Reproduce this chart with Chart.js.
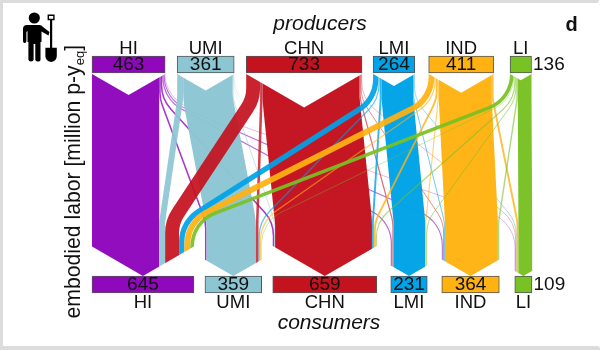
<!DOCTYPE html>
<html><head><meta charset="utf-8">
<script src="https://cdn.jsdelivr.net/npm/chart.js@4"></script>
<style>
html,body{margin:0;padding:0;background:#fff;width:605px;height:350px;overflow:hidden}
#wrap{position:absolute;left:0;top:0;width:605px;height:350px}
canvas{position:absolute;left:0;top:0}
.band{position:absolute;background:#dcdcdc}
svg{position:absolute;left:0;top:0}
</style></head><body>
<div id="wrap">
<div class="band" style="left:0;top:0;width:599px;height:3px;border-radius:0 0 3px 0"></div>
<div class="band" style="left:0;top:0;width:3px;height:350px"></div>
<div class="band" style="left:0;top:346px;width:600px;height:4px;border-radius:3px 3px 0 0"></div>
<canvas id="c" width="605" height="350"></canvas>
<svg width="605" height="350" viewBox="0 0 605 350">
  <circle cx="34.3" cy="18" r="5.6" fill="#000"/>
  <path d="M27 25 H39.5 Q41.5 25 43 27 L49.5 32 L48.5 35.5 L41.5 31.5 V42 H40.5 V59.5 Q40.5 61.5 37.7 61.5 Q35.3 61.5 35.3 59.5 V44 H33.6 V59.5 Q33.6 61.5 31 61.5 Q28.4 61.5 28.4 59.5 V42 H27.5 V31 L26.4 32 V41 Q26.4 43 24.6 43 Q23 43 23 41 V29 Q23 25 27 25Z" fill="#000"/>
  <path d="M47.6 14.6 H54.6 V20.2 H52.2 V47.8 H56.8 V56 Q56.8 61 51.2 62 Q45.4 61 45.4 56 V47.8 H50 V20.2 H47.6Z M49 16 V18.8 H53.2 V16Z" fill="#000" fill-rule="evenodd"/>
</svg>
</div>
<script>
const categories = ['HI','UMI','CHN','LMI','IND','LI'];
const producerTotals = [463,361,733,264,411,136];
const consumerTotals = [645,359,659,231,364,109];
// embodied labor flows, producer (row) to consumer (column)
const fromHI  = [425,10,10,8,7,3];
const fromUMI = [38,313,5,2,2,1];
const fromCHN = [88,16,613,8,5,3];
const fromLMI = [34,8,12,200,6,4];
const fromIND = [37,8,12,7,335,12];
const fromLI  = [23,4,7,6,9,87];
const flows = [fromHI,fromUMI,fromCHN,fromLMI,fromIND,fromLI];
// spacing between bars, in axis units
const producerGaps = [76,76,70,88,104];
const consumerGaps = [70,70,88,92,98];
const barColours = ['#9008BC','#8DC6D3','#C4121F','#00A3E8','#FFB212','#78C224'];

function spans(totals,gaps){let p=0;return totals.map((t,i)=>{const s=[p,p+t];p+=t+(gaps[i]||0);return s;});}
const prodSpans = spans(producerTotals,producerGaps);
const consSpans = spans(consumerTotals,consumerGaps);

const SLOPE = Math.tan(Math.PI/6);
const BAR = 17;
const FONT = '"Liberation Sans", Arial, sans-serif';

const flowPlugin = {
  id:'flows',
  beforeDatasetsDraw(chart){
    const {ctx,scales:{x,y}} = chart;
    const yTop = y.getPixelForValue(1)+BAR/2;
    const yBot = y.getPixelForValue(0)-BAR/2;
    const k = x.getPixelForValue(1)-x.getPixelForValue(0);
    const inOff = categories.map(()=>0);
    const ends = flows.map(()=>[]);
    flows.forEach((row,i)=>row.forEach((v,j)=>{
      ends[i][j]=consSpans[j][0]+inOff[j]+v/2; inOff[j]+=v;
    }));
    ctx.save();
    flows.forEach((row,i)=>{
      let off=0;
      row.forEach((v,j)=>{
        const xs=x.getPixelForValue(prodSpans[i][0]+off+v/2);
        const xe=x.getPixelForValue(ends[i][j]);
        off+=v;
        const w=v*k;
        ctx.beginPath();
        ctx.moveTo(xs,yTop);
        const y1=yTop+26, y2=yBot-54;
        const r=i===j?70:36;
        ctx.arcTo(xs,y1,xe,y2,r);
        ctx.arcTo(xe,y2,xe,yBot,r);
        ctx.lineTo(xe,yBot);
        ctx.strokeStyle=barColours[i];
        ctx.globalAlpha = i===j ? 0.98 : (w<1.5 ? 0.6 : (w<3 ? 0.8 : 0.93));
        ctx.lineWidth=w;
        ctx.lineCap='butt';
        ctx.lineJoin='round';
        ctx.stroke();
      });
    });
    ctx.globalAlpha=1;
    // chevrons at both ends of the bands
    ctx.fillStyle='#fff';
    prodSpans.forEach(([a,b])=>{
      const p=x.getPixelForValue(a),q=x.getPixelForValue(b),m=(p+q)/2;
      ctx.beginPath();ctx.moveTo(p-1,yTop-1);ctx.lineTo(p,yTop+1);ctx.lineTo(m,yTop+1+(q-p)/2*SLOPE);ctx.lineTo(q,yTop+1);ctx.lineTo(q+1,yTop-1);ctx.closePath();ctx.fill();
    });
    consSpans.forEach(([a,b])=>{
      const p=x.getPixelForValue(a),q=x.getPixelForValue(b),m=(p+q)/2,d=(q-p)/2*SLOPE;
      ctx.beginPath();ctx.moveTo(p-1,yBot-d);ctx.lineTo(p,yBot-d);ctx.lineTo(m,yBot);ctx.lineTo(q,yBot-d);ctx.lineTo(q+1,yBot-d);ctx.lineTo(q+1,yBot+1);ctx.lineTo(p-1,yBot+1);ctx.closePath();ctx.fill();
    });
    ctx.restore();
  },
  afterDatasetsDraw(chart){
    const {ctx,scales:{x,y}} = chart;
    const yP=y.getPixelForValue(1), yC=y.getPixelForValue(0);
    ctx.save();
    ctx.fillStyle='#111';ctx.textBaseline='middle';ctx.textAlign='center';
    const f=`18.5px ${FONT}`, v=`19px ${FONT}`;
    categories.forEach((c,i)=>{
      const pm=x.getPixelForValue((prodSpans[i][0]+prodSpans[i][1])/2);
      const cm=x.getPixelForValue((consSpans[i][0]+consSpans[i][1])/2);
      ctx.font=f;
      ctx.fillText(c,pm,yP-16);
      ctx.fillText(c,cm,yC+18);
      if(i<5){
        ctx.font=v;
        ctx.fillText(String(producerTotals[i]),pm,yP+0.5);
        ctx.fillText(String(consumerTotals[i]),cm,yC+0.5);
      }else{
        ctx.font=v;ctx.textAlign='left';
        ctx.fillText(String(producerTotals[i]),x.getPixelForValue(prodSpans[i][1])+1.5,yP+0.5);
        ctx.fillText(String(consumerTotals[i]),x.getPixelForValue(consSpans[i][1])+1.5,yC+0.5);
        ctx.textAlign='center';
      }
    });
    ctx.font=`italic 21px ${FONT}`;
    ctx.fillText('producers',320,yP-40);
    ctx.fillText('consumers',329,yC+39);
    ctx.font=`bold 20px ${FONT}`;
    ctx.fillText('d',571.5,25);
    // y axis title with subscript
    ctx.translate(80,318.5);ctx.rotate(-Math.PI/2);
    ctx.textAlign='left';ctx.textBaseline='alphabetic';
    let t='embodied labor [million p-y';
    ctx.font=`21.2px ${FONT}`;
    ctx.fillText(t,0,0);
    let w=ctx.measureText(t).width;
    ctx.font=`13px ${FONT}`;
    ctx.fillText('eq',w,4);
    w+=ctx.measureText('eq').width;
    ctx.font=`21.2px ${FONT}`;
    ctx.fillText(']',w,0);
    ctx.restore();
  }
};

new Chart(document.getElementById('c'),{
  type:'bar',
  plugins:[flowPlugin],
  data:{datasets:[
    {label:'producers',clip:false,grouped:false,barThickness:BAR,
     data:categories.map((c,i)=>({x:prodSpans[i],y:1})),
     backgroundColor:barColours,borderColor:'#555',borderWidth:1,borderSkipped:false},
    {label:'consumers',clip:false,grouped:false,barThickness:BAR,
     data:categories.map((c,i)=>({x:consSpans[i],y:0})),
     backgroundColor:barColours,borderColor:'#555',borderWidth:1,borderSkipped:false}
  ]},
  options:{
    indexAxis:'y',responsive:false,animation:false,
    layout:{padding:{left:92,right:73,top:64.5,bottom:65.5}},
    plugins:{legend:{display:false},tooltip:{enabled:false}},
    scales:{
      x:{type:'linear',min:0,max:2785,display:false,offset:false},
      y:{type:'linear',min:0,max:1,display:false,offset:false}
    }
  }
});
</script>
</body></html>
